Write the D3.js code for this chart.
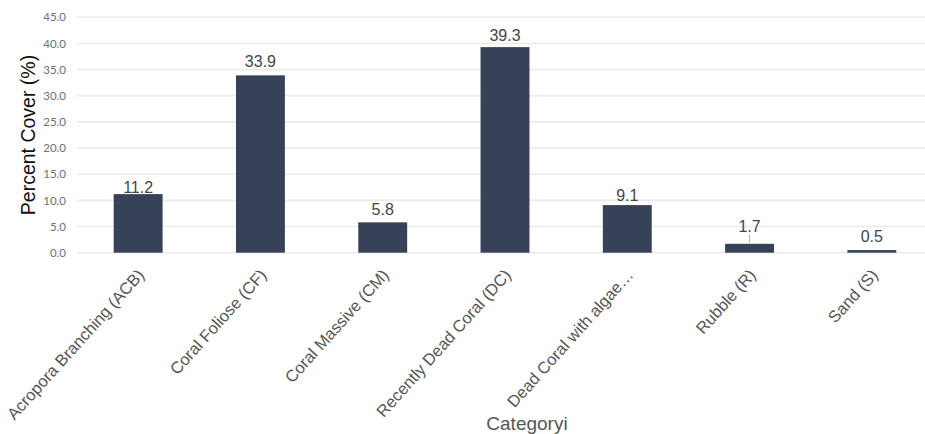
<!DOCTYPE html>
<html>
<head>
<meta charset="utf-8">
<script src="https://cdn.jsdelivr.net/npm/d3@7/dist/d3.min.js"></script>
<style>
  html, body { margin: 0; padding: 0; background: #ffffff; }
  svg { display: block; }
  text { font-family: "Liberation Sans", Arial, sans-serif; }
</style>
</head>
<body>
<svg id="chart" width="925" height="434"></svg>
<script>
// Benthic cover categories and their percent cover
const categories = [
  "Acropora Branching (ACB)",
  "Coral Foliose (CF)",
  "Coral Massive (CM)",
  "Recently Dead Coral (DC)",
  "Dead Coral with algae…",
  "Rubble (R)",
  "Sand (S)"
];
const percentCover = [11.2, 33.9, 5.8, 39.3, 9.1, 1.7, 0.5];
const yTicks = [0, 5, 10, 15, 20, 25, 30, 35, 40, 45];

// Extra spacing (px) between each value label and its bar
const labelGap = [1.5, 8, 7.5, 6, 4, 12, 8.5];
// Labels pushed away from their bar get a short leader line
const leaderMin = 10;

const svg = d3.select("#chart");
const W = 925, H = 434;
const plot = { left: 77, right: 933, top: 17.3, bottom: 252.7 };

const x = d3.scaleBand()
  .domain(categories)
  .range([plot.left, plot.right])
  .paddingInner(0.6)
  .paddingOuter(0.3);

const y = d3.scaleLinear()
  .domain([0, 45])
  .range([plot.bottom, plot.top]);

// Horizontal gridlines
svg.append("g")
  .selectAll("line")
  .data(yTicks)
  .join("line")
  .attr("x1", plot.left)
  .attr("x2", W)
  .attr("y1", d => y(d))
  .attr("y2", d => y(d))
  .attr("stroke", "#ebebeb")
  .attr("stroke-width", 1.6);

// Y axis tick labels
const yAxis = d3.axisLeft(y)
  .tickValues(yTicks)
  .tickFormat(d3.format(".1f"))
  .tickSize(0)
  .tickPadding(11);
const gy = svg.append("g")
  .attr("transform", `translate(${plot.left},0)`)
  .call(yAxis);
gy.select(".domain").remove();
gy.selectAll("text")
  .attr("fill", "#707070")
  .style("font-family", "Lato, Arial, sans-serif")
  .style("font-size", "11.5px");

// Bars
svg.append("g")
  .selectAll("rect")
  .data(percentCover)
  .join("rect")
  .attr("x", (d, i) => x(categories[i]))
  .attr("y", d => y(d))
  .attr("width", x.bandwidth())
  .attr("height", d => y(0) - y(d))
  .attr("fill", "#374158");

// Leader lines for labels sitting farther above their bars
svg.append("g")
  .selectAll("line")
  .data(percentCover.map((v, i) => ({ v, i })).filter(d => labelGap[d.i] >= leaderMin))
  .join("line")
  .attr("x1", d => x(categories[d.i]) + x.bandwidth() / 2)
  .attr("x2", d => x(categories[d.i]) + x.bandwidth() / 2)
  .attr("y1", d => y(d.v) - labelGap[d.i] + 3)
  .attr("y2", d => y(d.v) - 1)
  .attr("stroke", "#b0b0b0")
  .attr("stroke-width", 1);

// Value labels
svg.append("g")
  .selectAll("text")
  .data(percentCover)
  .join("text")
  .attr("x", (d, i) => x(categories[i]) + x.bandwidth() / 2)
  .attr("y", (d, i) => y(d) - labelGap[i])
  .attr("text-anchor", "middle")
  .attr("fill", "#454545")
  .style("font-size", "16px")
  .text(d => d.toFixed(1));

// Category labels, rotated
const xAxis = d3.axisBottom(x).tickSize(0).tickPadding(0);
const gx = svg.append("g")
  .attr("transform", `translate(0,${plot.bottom})`)
  .call(xAxis);
gx.select(".domain").remove();
gx.selectAll("text")
  .attr("text-anchor", "end")
  .attr("fill", "#555555")
  .style("font-family", "\"Liberation Sans\", Arial, sans-serif")
  .style("font-size", "16.5px")
  .attr("dy", "0")
  .attr("transform", "translate(7,23) rotate(-48)");

// Axis titles
svg.append("text")
  .attr("transform", `translate(35,${(plot.top + plot.bottom) / 2}) rotate(-90)`)
  .attr("text-anchor", "middle")
  .attr("fill", "#111111")
  .style("font-size", "19.5px")
  .text("Percent Cover (%)");

svg.append("text")
  .attr("x", 527)
  .attr("y", 430)
  .attr("text-anchor", "middle")
  .attr("fill", "#555555")
  .style("font-size", "19px")
  .text("Categoryi");
</script>
</body>
</html>
